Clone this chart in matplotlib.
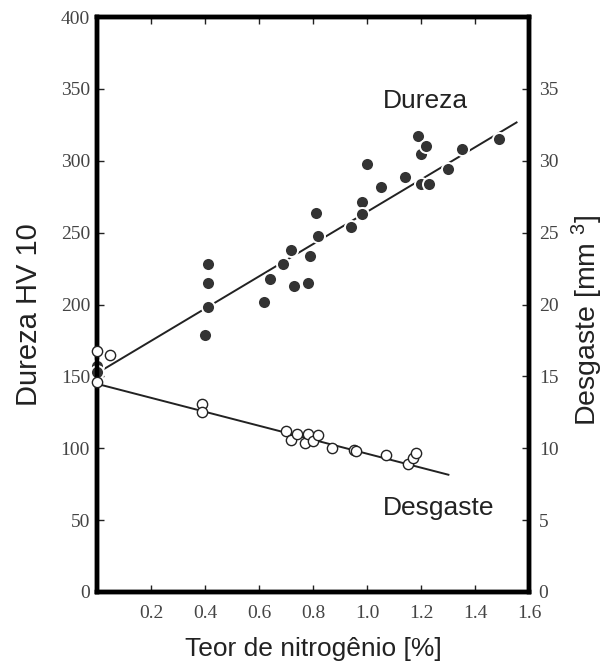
import matplotlib
matplotlib.use("Agg")
import matplotlib.pyplot as plt
import numpy as np

plt.rcParams["mathtext.fontset"] = "custom"
plt.rcParams["mathtext.rm"] = "Liberation Sans"
plt.rcParams["mathtext.it"] = "Liberation Sans:italic"
plt.rcParams["mathtext.bf"] = "Liberation Sans:bold"

# ---- data ----
dureza_x = [0.0, 0.0, 0.40, 0.41, 0.41, 0.41, 0.62, 0.64, 0.69, 0.72, 0.73, 0.78, 0.79, 0.81, 0.82,
            0.94, 0.98, 0.98, 1.00, 1.05, 1.14, 1.19, 1.20, 1.22, 1.20, 1.23, 1.30, 1.35, 1.49]
dureza_y = [157, 153, 179, 228, 215, 198, 202, 218, 228, 238, 213, 215, 234, 264, 248,
            254, 271, 263, 298, 282, 289, 317, 305, 310, 284, 284, 294, 308, 315]

desgaste_x = [0.0, 0.05, 0.0, 0.39, 0.39, 0.70, 0.72, 0.74, 0.77, 0.78, 0.80, 0.82,
              0.87, 0.95, 0.96, 1.07, 1.15, 1.17, 1.18]
desgaste_y = [16.8, 16.5, 14.6, 13.1, 12.5, 11.2, 10.6, 11.0, 10.4, 11.0, 10.5, 10.9,
              10.0, 9.9, 9.8, 9.5, 8.9, 9.3, 9.7]

dureza_fit_x = [0.0, 1.557]
dureza_fit_y = [152.2, 327.0]
desgaste_fit_x = [0.0, 1.305]
desgaste_fit_y = [14.48, 8.14]

x_ticks = [0.2, 0.4, 0.6, 0.8, 1.0, 1.2, 1.4, 1.6]
x_ticklabels = ["0.2", "0.4", "0.6", "0.8", "1.0", "1.2", "1.4", "1.6"]
left_ticks = [0, 50, 100, 150, 200, 250, 300, 350, 400]
right_ticks = [0, 5, 10, 15, 20, 25, 30, 35]

# ---- figure ----
W, H = 605, 665
fig = plt.figure(figsize=(W / 100, H / 100), dpi=100)
ax = fig.add_axes([97 / W, 73 / H, 432 / W, 575 / H])
ax2 = ax.twinx()

serif = "Liberation Serif"
sans = "Liberation Sans"
tick_color = "#444444"
ink = "#222222"

ax.set_xlim(0, 1.6)
ax.set_ylim(0, 400)
ax2.set_ylim(0, 40)

# fitted lines
ax.plot(dureza_fit_x, dureza_fit_y, color=ink, lw=1.4, zorder=2, solid_capstyle="butt")
ax2.plot(desgaste_fit_x, desgaste_fit_y, color=ink, lw=1.4, zorder=2, solid_capstyle="butt")

# points
ax.plot(dureza_x, dureza_y, "o", ms=9.4, color="#333333", mec="white", mew=1.4,
        zorder=3, clip_on=False)
ax2.plot(desgaste_x, desgaste_y, "o", ms=7.4, mfc="white", mec=ink, mew=1.0,
         zorder=3, clip_on=False)

# ticks
ax.set_xticks(x_ticks)
ax.set_xticklabels(x_ticklabels)
ax.set_yticks(left_ticks)
ax2.set_yticks(right_ticks)
ax.tick_params(axis="x", direction="in", top=True, length=5, width=1, pad=9,
               labelsize=14, labelcolor=tick_color, color=ink)
ax.tick_params(axis="y", direction="in", length=5, width=1, pad=5,
               labelsize=14, labelcolor=tick_color, color=ink)
ax2.tick_params(axis="y", direction="in", length=5, width=1, pad=7,
                labelsize=14, labelcolor=tick_color, color=ink)
for lab in ax.get_xticklabels() + ax.get_yticklabels() + ax2.get_yticklabels():
    lab.set_fontfamily(serif)

for a in (ax, ax2):
    for s in a.spines.values():
        s.set_linewidth(3.2)
        s.set_color("black")
ax.set_zorder(1)
ax2.set_zorder(2)
ax2.patch.set_visible(False)

# labels
ax.set_xlabel("Teor de nitrogênio [%]", fontfamily=sans, fontsize=19, color=ink, labelpad=11)
ax.set_ylabel("Dureza HV 10", fontfamily=sans, fontsize=21, color=ink, labelpad=13)
ax2.set_ylabel(r"Desgaste [mm $^{3}$]", fontfamily=sans, fontsize=20.5, color=ink, labelpad=8)
ax.yaxis.label.set_y(0.483)
ax2.yaxis.label.set_y(0.473)

ax.text(1.058, 337, "Dureza", fontfamily=sans, fontsize=19, color=ink,
        ha="left", va="baseline")
ax.text(1.058, 53.5, "Desgaste", fontfamily=sans, fontsize=19, color=ink,
        ha="left", va="baseline")

fig.savefig("out.png", dpi=100)
